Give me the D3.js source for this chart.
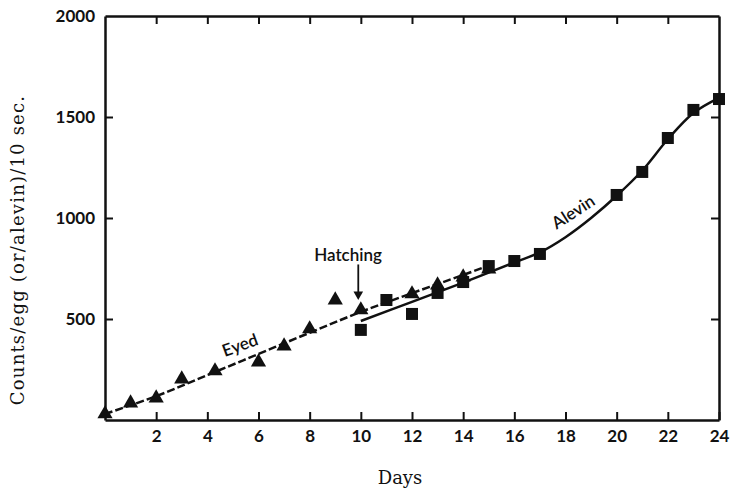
<!DOCTYPE html>
<html>
<head>
<meta charset="utf-8">
<script src="https://cdn.jsdelivr.net/npm/d3@7"></script>
<style>
  body { margin: 0; background: #fff; }
  .tick-label { font-family: Lato, "Open Sans", sans-serif; font-weight: bold; font-size: 17px; fill: #111; }
  .note { font-family: Lato, "Open Sans", sans-serif; font-weight: 600; font-size: 17px; fill: #111; }
  .serif { font-family: "DejaVu Serif", "Liberation Serif", serif; font-size: 18px; fill: #111; }
</style>
</head>
<body>
<div id="chart"></div>
<script>
(() => {

  // eyed eggs (triangles)
  var eyedDays = [0, 1, 2, 3, 4.3, 6, 7, 8, 9, 10, 12, 13, 14, 15];
  var eyedCounts = [25, 79, 104, 198, 238, 282, 361, 446, 589, 540, 619, 663, 703, 742];

  // alevins (squares)
  var alevinDays = [10, 11, 12, 13, 14, 15, 16, 17, 20, 21, 22, 23, 24];
  var alevinCounts = [446, 594, 525, 629, 683, 762, 787, 822, 1114, 1228, 1396, 1535, 1589];

  // fitted curves as drawn on the figure
  var eyedFitDays = [0, 2, 4, 6, 8, 10, 12, 14, 15];
  var eyedFitCounts = [30, 118, 222, 327, 432, 535, 628, 718, 765];
  var alevinFitDays = [10, 12, 14, 16, 17, 18, 19, 20, 21, 22, 23, 24];
  var alevinFitCounts = [490, 585, 680, 780, 830, 905, 1000, 1110, 1235, 1390, 1520, 1595];

  var xTicks = [2, 4, 6, 8, 10, 12, 14, 16, 18, 20, 22, 24];
  var yTicks = [500, 1000, 1500, 2000];

  var margin = { top: 16, right: 13, bottom: 71, left: 105 };
  var width = 732 - margin.left - margin.right;
  var height = 491 - margin.top - margin.bottom;

  var svg = d3.select('#chart')
    .append('svg')
    .attr('width', 732)
    .attr('height', 491)
    .append('g')
    .attr('transform', 'translate(' + margin.left + ',' + margin.top + ')');

  var x = d3.scaleLinear().domain([0, 24]).range([0, width]);
  var y = d3.scaleLinear().domain([0, 2000]).range([height, 0]);

  // frame axes, ticks pointing inward
  var bottom = svg.append('g')
    .attr('transform', 'translate(0,' + height + ')')
    .call(d3.axisBottom(x).tickValues(xTicks).tickSize(-8).tickSizeOuter(0).tickPadding(10));
  var top = svg.append('g')
    .call(d3.axisTop(x).tickValues(xTicks.filter(d => d < 24)).tickSize(-8).tickSizeOuter(0).tickFormat(''));
  var left = svg.append('g')
    .call(d3.axisLeft(y).tickValues(yTicks).tickSize(-8).tickSizeOuter(0).tickPadding(10).tickFormat(d3.format('d')));
  var right = svg.append('g')
    .attr('transform', 'translate(' + width + ',0)')
    .call(d3.axisRight(y).tickValues(yTicks.filter(d => d < 2000)).tickSize(-8).tickSizeOuter(0).tickFormat(''));

  [bottom, top, left, right].forEach(g => {
    g.select('.domain').attr('stroke', '#111').attr('stroke-width', 2.5);
    g.selectAll('.tick line').attr('stroke', '#111').attr('stroke-width', 2);
    g.selectAll('.tick text').attr('class', 'tick-label').attr('font-family', null).attr('font-size', null);
  });
  left.selectAll('.tick line').filter(d => d === 2000).remove();

  // fitted curves
  var eyedLine = d3.line()
    .x((d, i) => x(eyedFitDays[i]))
    .y(d => y(d))
    .curve(d3.curveCatmullRom);
  var alevinLine = d3.line()
    .x((d, i) => x(alevinFitDays[i]))
    .y(d => y(d))
    .curve(d3.curveCatmullRom);

  svg.append('path')
    .attr('d', eyedLine(eyedFitCounts))
    .attr('fill', 'none')
    .attr('stroke', '#111')
    .attr('stroke-width', 2.5)
    .attr('stroke-dasharray', '8,3');

  svg.append('path')
    .attr('d', alevinLine(alevinFitCounts))
    .attr('fill', 'none')
    .attr('stroke', '#111')
    .attr('stroke-width', 2.5);

  // markers
  var tri = d3.symbol().type(d3.symbolTriangle).size(100);
  svg.selectAll('.tri')
    .data(eyedCounts)
    .enter().append('path')
    .attr('class', 'tri')
    .attr('d', tri)
    .attr('transform', (d, i) => 'translate(' + x(eyedDays[i]) + ',' + (y(d) - 1) + ')')
    .attr('fill', '#111');

  svg.selectAll('.sq')
    .data(alevinCounts)
    .enter().append('rect')
    .attr('class', 'sq')
    .attr('x', (d, i) => x(alevinDays[i]) - 6)
    .attr('y', d => y(d) - 6)
    .attr('width', 12)
    .attr('height', 12)
    .attr('fill', '#111');

  // annotations
  svg.append('text')
    .attr('class', 'note')
    .attr('transform', 'translate(' + x(5.28) + ',' + y(371) + ') rotate(-20)')
    .attr('dy', '0.35em')
    .style('text-anchor', 'middle')
    .text('Eyed');

  svg.append('text')
    .attr('class', 'note')
    .attr('transform', 'translate(' + x(18.3) + ',' + y(1030) + ') rotate(-33)')
    .attr('dy', '0.35em')
    .style('text-anchor', 'middle')
    .text('Alevin');

  svg.append('text')
    .attr('class', 'note')
    .attr('x', x(9.5))
    .attr('y', y(817))
    .attr('dy', '0.35em')
    .style('text-anchor', 'middle')
    .text('Hatching');

  svg.append('line')
    .attr('x1', x(9.9)).attr('x2', x(9.9))
    .attr('y1', y(770)).attr('y2', y(625))
    .attr('stroke', '#111')
    .attr('stroke-width', 1.8);
  svg.append('path')
    .attr('d', d3.symbol().type(d3.symbolTriangle).size(40))
    .attr('transform', 'translate(' + x(9.9) + ',' + y(622) + ') rotate(180)')
    .attr('fill', '#111');

  // axis titles
  svg.append('text')
    .attr('class', 'serif')
    .attr('x', width / 2 - 12)
    .attr('y', height + 64)
    .style('text-anchor', 'middle')
    .text('Days');

  svg.append('text')
    .attr('class', 'serif')
    .attr('transform', 'rotate(-90)')
    .attr('x', -234)
    .attr('y', -81)
    .style('text-anchor', 'middle')
    .style('letter-spacing', '1.2px')
    .text('Counts/egg (or/alevin)/10 sec.');
})();
</script>
</body>
</html>
